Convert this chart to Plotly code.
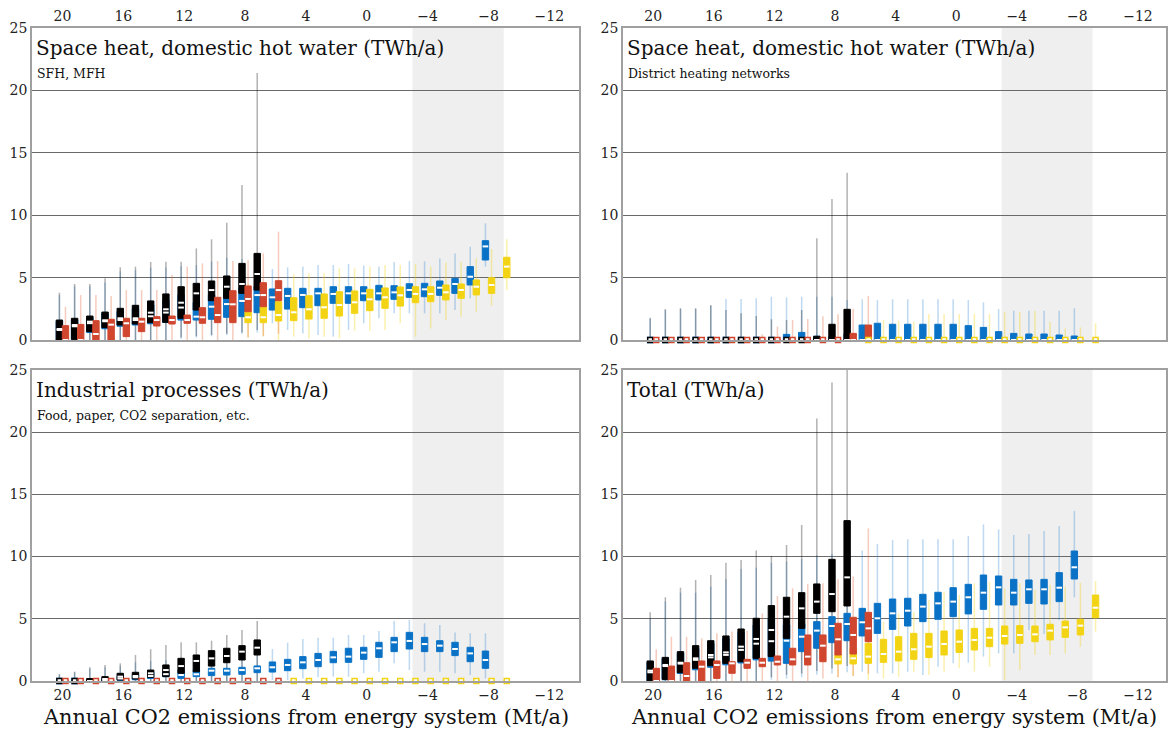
import plotly.graph_objects as go

# ---------------- data: rows are [CO2 group (Mt/a), whisker low, q1, median, q3, whisker high]
SFH_BLACK = [
    [20, 0, 0, 0.88, 1.6, 3.79], [19, 0, 0.05, 1.2, 1.74, 4.49], [18, 0, 0.67, 1.47, 1.92, 4.49],
    [17, 0, 0.99, 1.58, 2.24, 4.94], [16, 0, 1.2, 1.74, 2.54, 5.82], [15, 0, 1.28, 1.74, 2.78, 5.88],
    [14, 0, 1.39, 2.19, 3.13, 6.25], [13, 0, 1.42, 2.46, 3.69, 6.28], [12, 0.2, 1.74, 2.99, 4.27, 6.28],
    [11, 0.3, 2.4, 3.74, 4.54, 7.34], [10, 0.4, 3.15, 4.0, 4.73, 8.07], [9, 0.5, 3.34, 4.27, 5.13, 9.4],
    [8, 0.6, 3.74, 4.49, 6.14, 12.42], [7, 0.8, 4.0, 5.29, 6.94, 21.4],
]
SFH_BLUE = [
    [20, 0, 0, 0.8, 1.5, 3.6], [19, 0, 0.05, 1.1, 1.6, 4.3], [18, 0, 0.6, 1.35, 1.8, 4.3],
    [17, 0, 0.9, 1.5, 2.1, 4.6], [16, 0, 1.1, 1.6, 2.3, 5.5], [15, 0, 1.2, 1.6, 2.5, 5.6],
    [14, 0, 1.3, 1.9, 2.8, 5.8], [13, 0, 1.4, 2.2, 3.2, 5.8], [12, 0.1, 1.6, 2.6, 3.6, 5.9],
    [11, 0.2, 1.6, 1.87, 3.0, 6.0], [10, 0.3, 1.66, 2.67, 3.6, 6.3], [9, 0.4, 1.82, 2.88, 3.8, 6.6],
    [8, 0.5, 1.87, 3.13, 4.2, 6.5], [7, 0.6, 2.19, 3.6, 4.3, 6.3], [6, 1.34, 2.4, 3.42, 4.09, 5.69],
    [5, 0.8, 2.48, 3.53, 4.14, 5.82], [4, 0.53, 2.59, 3.61, 4.14, 5.88], [3, 0.4, 2.75, 3.74, 4.14, 6.01],
    [2, 0.27, 2.94, 3.69, 4.27, 6.01], [1, 0.8, 2.94, 3.74, 4.27, 6.09], [0, 1.34, 3.15, 3.74, 4.27, 5.96],
    [-1, 1.74, 3.21, 3.74, 4.38, 5.88], [-2, 2.14, 3.26, 3.82, 4.35, 6.25], [-3, 2.14, 3.42, 4.01, 4.51, 6.33],
    [-4, 2.14, 3.47, 4.06, 4.54, 6.3], [-5, 2.14, 3.58, 4.19, 4.73, 6.54], [-6, 2.4, 3.74, 4.49, 4.94, 6.94],
    [-7, 3.34, 4.41, 5.07, 5.88, 7.48], [-8, 5.88, 6.41, 7.5, 7.96, 9.35],
]
SFH_RED = [
    [20, 0, 0, 0, 1.15, 2.67], [19, 0, 0, 0, 1.25, 3.6], [18, 0, 0, 0.48, 1.55, 3.6],
    [17, 0, 0, 1.23, 1.66, 3.53], [16, 0, 0.27, 1.34, 1.74, 4.0], [15, 0, 0.67, 1.47, 1.74, 4.0],
    [14, 0, 1.12, 1.6, 1.87, 4.0], [13, 0, 1.28, 1.6, 1.92, 5.21], [12, 0, 1.34, 1.6, 2.0, 5.88],
    [11, 0, 1.34, 1.82, 2.59, 6.14], [10, 0, 1.39, 2.0, 3.42, 6.33], [9, 0, 1.39, 2.86, 3.95, 6.33],
    [8, 0.2, 2.27, 3.29, 4.33, 6.4], [7, 0.3, 2.67, 3.6, 4.59, 6.94], [6, 0.5, 3.15, 4.0, 4.75, 8.68],
]
SFH_YELLOW = [
    [8, 0.2, 1.39, 1.82, 2.27, 4.5], [7, 0.3, 1.39, 1.82, 2.67, 4.6], [6, 0, 1.52, 2.0, 3.07, 4.8],
    [5, 0.27, 1.55, 2.22, 3.39, 5.29], [4, 0.13, 1.68, 2.46, 3.55, 5.34], [3, 0.27, 1.74, 2.62, 3.69, 5.34],
    [2, 0.13, 1.92, 2.8, 3.87, 5.74], [1, 0.75, 2.14, 3.02, 3.93, 5.74], [0, 0.75, 2.35, 3.26, 4.06, 5.88],
    [-1, 0.8, 2.54, 3.42, 4.17, 6.01], [-2, 1.34, 2.72, 3.58, 4.25, 6.01], [-3, 0.27, 2.99, 3.69, 4.27, 6.09],
    [-4, 0.93, 3.07, 3.69, 4.27, 5.88], [-5, 1.6, 3.21, 3.82, 4.41, 6.22], [-6, 1.87, 3.34, 4.01, 4.49, 6.28],
    [-7, 2.27, 3.61, 4.27, 4.81, 6.54], [-8, 2.75, 3.74, 4.41, 4.99, 7.29], [-9, 4.0, 4.99, 5.88, 6.63, 8.07],
]

DH_BLACK = [
    [20, 0, 0, 0, 0, 1.79], [19, 0, 0, 0, 0, 2.48], [18, 0, 0, 0, 0, 2.54], [17, 0, 0, 0, 0, 2.54],
    [16, 0, 0, 0, 0, 2.8], [15, 0, 0, 0, 0, 2.4], [14, 0, 0, 0, 0, 2.14], [13, 0, 0, 0, 0, 1.92],
    [12, 0, 0, 0, 0, 1.66], [11, 0, 0, 0, 0, 1.6], [10, 0, 0, 0, 0, 2.4], [9, 0, 0, 0, 0.3, 8.15],
    [8, 0, 0, 0, 1.26, 11.3], [7, 0, 0, 0, 2.46, 13.4],
]
DH_BLUE = [
    [20, 0, 0, 0, 0, 1.7], [19, 0, 0, 0, 0, 2.4], [18, 0, 0, 0, 0, 2.5], [17, 0, 0, 0, 0, 2.5],
    [16, 0, 0, 0, 0, 2.75], [15, 0, 0, 0, 0, 3.29], [14, 0, 0, 0, 0, 3.29], [13, 0, 0, 0, 0, 3.34],
    [12, 0, 0, 0, 0, 3.47], [11, 0, 0, 0, 0.45, 3.42], [10, 0, 0, 0, 0.61, 3.47], [9, 0, 0, 0, 0.3, 3.47],
    [8, 0, 0, 0, 0.3, 3.47], [7, 0, 0, 0, 0.5, 3.2], [6, 0, 0, 0, 1.2, 3.26], [5, 0, 0, 0, 1.34, 3.2],
    [4, 0, 0, 0, 1.26, 3.26], [3, 0, 0, 0, 1.26, 3.26], [2, 0, 0, 0, 1.26, 3.26], [1, 0, 0, 0, 1.26, 3.26],
    [0, 0, 0, 0, 1.26, 3.26], [-1, 0, 0, 0, 1.15, 3.2], [-2, 0, 0, 0, 1.01, 3.02], [-3, 0, 0, 0, 0.67, 2.48],
    [-4, 0, 0, 0, 0.53, 2.35], [-5, 0, 0, 0, 0.48, 2.35], [-6, 0, 0, 0, 0.48, 2.35], [-7, 0, 0, 0, 0.4, 2.35],
    [-8, 0, 0, 0, 0.32, 2.54],
]
DH_RED = [
    [20, 0, 0, 0, 0, 0], [19, 0, 0, 0, 0, 0], [18, 0, 0, 0, 0, 0], [17, 0, 0, 0, 0, 0],
    [16, 0, 0, 0, 0, 0], [15, 0, 0, 0, 0, 0], [14, 0, 0, 0, 0, 0.1], [13, 0, 0, 0, 0, 0.45],
    [12, 0, 0, 0, 0, 1.07], [11, 0, 0, 0, 0, 1.6], [10, 0, 0, 0, 0, 1.68], [9, 0, 0, 0, 0, 1.9],
    [8, 0, 0, 0, 0, 2.06], [7, 0, 0, 0, 0.53, 2.48], [6, 0, 0, 0, 1.2, 3.53],
]
DH_YELLOW = [
    [6, 0, 0, 0, 0, 0.3], [5, 0, 0, 0, 0, 1.6], [4, 0, 0, 0, 0, 1.55], [3, 0, 0, 0, 0, 1.47],
    [2, 0, 0, 0, 0, 2.08], [1, 0, 0, 0, 0, 2.08], [0, 0, 0, 0, 0, 2.08], [-1, 0, 0, 0, 0, 2.08],
    [-2, 0, 0, 0, 0, 2.08], [-3, 0, 0, 0, 0, 2.27], [-4, 0, 0, 0, 0, 2.27], [-5, 0, 0, 0, 0, 2.32],
    [-6, 0, 0, 0, 0, 1.47], [-7, 0, 0, 0, 0, 0.93], [-8, 0, 0, 0, 0, 1.01], [-9, 0, 0, 0, 0, 1.34],
]

IND_BLACK = [
    [20, 0, 0, 0, 0, 0.56], [19, 0, 0, 0, 0, 0.75], [18, 0, 0, 0, 0.2, 1.1], [17, 0, 0, 0.16, 0.35, 1.29],
    [16, 0, 0.08, 0.35, 0.62, 1.42], [15, 0, 0.16, 0.4, 0.7, 2.09], [14, 0, 0.3, 0.62, 0.88, 2.55],
    [13, 0, 0.35, 0.88, 1.29, 2.89], [12, 0, 0.62, 1.2, 1.82, 3.11], [11, 0, 0.75, 1.61, 2.09, 3.11],
    [10, 0, 1.2, 1.82, 2.44, 3.24], [9, 0, 1.47, 2.01, 2.63, 3.7], [8, 0, 1.69, 2.36, 2.84, 4.1],
    [7, 0, 2.09, 2.68, 3.3, 4.82],
]
IND_BLUE = [
    [20, 0, 0, 0, 0, 0.5], [19, 0, 0, 0, 0, 0.7], [18, 0, 0, 0, 0.1, 1.0], [17, 0, 0, 0.05, 0.2, 1.1],
    [16, 0, 0.05, 0.2, 0.4, 1.2], [15, 0, 0.1, 0.3, 0.5, 1.5], [14, 0, 0.2, 0.4, 0.7, 1.6],
    [13, 0, 0.35, 0.55, 0.75, 1.69], [12, 0, 0.21, 0.48, 0.88, 1.9], [11, 0, 0.35, 0.54, 0.88, 2.0],
    [10, 0, 0.43, 0.83, 1.02, 2.2], [9, 0, 0.48, 0.83, 1.02, 2.3], [8, 0, 0.54, 0.88, 1.1, 2.4],
    [7, 0, 0.67, 1.02, 1.21, 2.5], [6, 0.08, 0.72, 1.1, 1.53, 2.57], [5, 0.08, 0.83, 1.29, 1.74, 3.08],
    [4, 0.21, 0.99, 1.5, 1.96, 3.38], [3, 0.3, 1.15, 1.69, 2.22, 3.48], [2, 0.35, 1.47, 1.9, 2.38, 3.48],
    [1, 0.35, 1.5, 1.96, 2.63, 3.7], [0, 0.62, 1.74, 2.28, 2.71, 3.7], [-1, 0.75, 1.9, 2.63, 3.11, 4.02],
    [-2, 1.42, 2.36, 3.11, 3.51, 4.82], [-3, 0.88, 2.57, 3.22, 3.91, 4.9], [-4, 0.75, 2.36, 2.97, 3.51, 4.64],
    [-5, 0.75, 2.36, 2.84, 3.24, 4.5], [-6, 0.62, 2.04, 2.57, 3.11, 3.89], [-7, 0.48, 1.55, 2.22, 2.71, 3.83],
    [-8, 0.21, 1.02, 1.69, 2.41, 3.83],
]
IND_RED = [
    [20, 0, 0, 0, 0, 0], [19, 0, 0, 0, 0, 0], [18, 0, 0, 0, 0, 0], [17, 0, 0, 0, 0, 0], [16, 0, 0, 0, 0, 0],
    [15, 0, 0, 0, 0, 0], [14, 0, 0, 0, 0, 0], [13, 0, 0, 0, 0, 0], [12, 0, 0, 0, 0, 0], [11, 0, 0, 0, 0, 0],
    [10, 0, 0, 0, 0, 0], [9, 0, 0, 0, 0, 0], [8, 0, 0, 0, 0, 0], [7, 0, 0, 0, 0, 0], [6, 0, 0, 0, 0, 0.3],
]
IND_YELLOW = [
    [5, 0, 0, 0, 0, 0], [4, 0, 0, 0, 0, 0], [3, 0, 0, 0, 0, 0], [2, 0, 0, 0, 0, 0], [1, 0, 0, 0, 0, 0],
    [0, 0, 0, 0, 0, 0], [-1, 0, 0, 0, 0, 0], [-2, 0, 0, 0, 0, 0], [-3, 0, 0, 0, 0, 0], [-4, 0, 0, 0, 0, 0],
    [-5, 0, 0, 0, 0, 0], [-6, 0, 0, 0, 0, 0], [-7, 0, 0, 0, 0, 0], [-8, 0, 0, 0, 0, 0], [-9, 0, 0, 0, 0, 0],
]

TOT_BLACK = [
    [20, 0, 0, 0.83, 1.61, 5.52], [19, 0, 0.13, 1.29, 1.9, 6.73], [18, 0, 0.67, 1.47, 2.36, 7.5],
    [17, 0, 1.02, 1.82, 2.84, 8.12], [16, 0, 1.23, 2.09, 3.24, 8.52], [15, 0, 1.42, 2.3, 3.62, 9.51],
    [14, 0, 1.55, 2.76, 4.18, 9.73], [13, 0, 1.82, 3.38, 5.04, 10.48], [12, 0.3, 1.96, 4.1, 6.06, 10.05],
    [11, 0.5, 3.43, 5.17, 6.73, 10.93], [10, 0.6, 4.23, 5.84, 7.1, 12.54], [9, 0.8, 5.44, 6.38, 7.8, 21.1],
    [8, 1.0, 5.57, 6.99, 9.78, 24.0], [7, 1.2, 6.03, 8.33, 12.89, 25.8],
]
TOT_BLUE = [
    [20, 0, 0, 0.7, 1.5, 5.0], [19, 0, 0.1, 1.2, 1.8, 6.4], [18, 0, 0.6, 1.4, 2.2, 7.1],
    [17, 0, 0.9, 1.7, 2.6, 7.1], [16, 0, 1.1, 1.9, 3.0, 7.6], [15, 0, 1.3, 2.1, 3.4, 8.2],
    [14, 0, 1.45, 2.5, 3.9, 9.0], [13, 0, 1.7, 3.0, 4.5, 9.1], [12, 0.1, 1.6, 3.2, 5.0, 9.5],
    [11, 0.2, 1.42, 3.24, 4.5, 9.6], [10, 0.3, 2.36, 3.56, 4.6, 9.8], [9, 0.5, 2.63, 4.05, 4.77, 10.1],
    [8, 0.6, 3.08, 4.42, 5.17, 10.2], [7, 0.7, 3.24, 4.58, 5.44, 10.0], [6, 0.75, 3.62, 4.72, 5.84, 10.48],
    [5, 0.62, 3.83, 5.04, 6.24, 11.01], [4, 0.62, 4.15, 5.44, 6.59, 11.33], [3, 0.75, 4.42, 5.65, 6.65, 11.39],
    [2, 0.48, 4.77, 5.98, 6.97, 11.39], [1, 1.15, 4.96, 6.24, 7.13, 11.39], [0, 1.42, 5.17, 6.38, 7.5, 11.39],
    [-1, 1.47, 5.39, 6.73, 7.77, 11.66], [-2, 1.96, 5.76, 7.1, 8.52, 12.59], [-3, 2.22, 6.11, 7.53, 8.44, 12.19],
    [-4, 2.22, 6.11, 7.1, 8.17, 11.74], [-5, 4.1, 6.24, 7.37, 8.12, 11.82], [-6, 3.78, 6.19, 7.37, 8.17, 12.06],
    [-7, 4.9, 6.38, 7.5, 8.71, 12.46], [-8, 6.73, 8.2, 9.14, 10.45, 13.67],
]
TOT_RED = [
    [20, 0, 0, 0, 1.02, 2.55], [19, 0, 0, 0, 1.2, 3.56], [18, 0, 0, 0.4, 1.47, 3.56],
    [17, 0, 0, 1.15, 1.61, 3.43], [16, 0, 0.21, 1.29, 1.61, 3.83], [15, 0, 0.62, 1.42, 1.55, 3.97],
    [14, 0, 1.02, 1.47, 1.74, 4.02], [13, 0, 1.15, 1.47, 1.82, 5.44], [12, 0, 1.29, 1.55, 2.01, 6.83],
    [11, 0, 1.29, 1.74, 2.63, 7.45], [10, 0, 1.29, 1.96, 3.7, 7.8], [9, 0.2, 1.55, 2.84, 3.7, 7.85],
    [8, 0.3, 2.09, 3.35, 4.64, 8.17], [7, 0.4, 2.17, 3.7, 5.12, 8.39], [6, 0.6, 3.16, 4.23, 5.52, 12.27],
]
TOT_YELLOW = [
    [8, 0.3, 1.37, 1.74, 2.09, 4.5], [7, 0.4, 1.37, 1.82, 2.63, 5.0], [6, 0.1, 1.42, 1.96, 3.03, 5.3],
    [5, 0.21, 1.5, 2.17, 3.35, 4.77], [4, 0.35, 1.61, 2.36, 3.56, 5.44], [3, 0.75, 1.74, 2.55, 3.83, 5.57],
    [2, 0.48, 1.88, 2.76, 3.83, 6.51], [1, 0.75, 2.09, 2.97, 4.02, 7.18], [0, 1.02, 2.3, 3.16, 4.1, 6.91],
    [-1, 0.75, 2.49, 3.3, 4.23, 7.85], [-2, 1.15, 2.76, 3.48, 4.23, 7.98], [-3, 0.08, 2.97, 3.62, 4.42, 7.45],
    [-4, 0.88, 3.03, 3.7, 4.45, 7.85], [-5, 2.09, 3.16, 3.75, 4.42, 7.32], [-6, 2.09, 3.3, 4.05, 4.56, 7.72],
    [-7, 2.22, 3.51, 4.31, 4.82, 7.58], [-8, 2.76, 3.7, 4.45, 4.96, 7.9], [-9, 3.97, 5.09, 5.89, 6.91, 8.04],
]

PANELS = [
    {"title": "Space heat, domestic hot water (TWh/a)", "sub": "SFH, MFH",
     "data": {"blue": SFH_BLUE, "yellow": SFH_YELLOW, "black": SFH_BLACK, "red": SFH_RED}},
    {"title": "Space heat, domestic hot water (TWh/a)", "sub": "District heating networks",
     "data": {"blue": DH_BLUE, "yellow": DH_YELLOW, "black": DH_BLACK, "red": DH_RED}},
    {"title": "Industrial processes (TWh/a)", "sub": "Food, paper, CO2 separation, etc.",
     "data": {"blue": IND_BLUE, "yellow": IND_YELLOW, "black": IND_BLACK, "red": IND_RED}},
    {"title": "Total (TWh/a)", "sub": "",
     "data": {"blue": TOT_BLUE, "yellow": TOT_YELLOW, "black": TOT_BLACK, "red": TOT_RED}},
]
X_TICKS = [20, 16, 12, 8, 4, 0, -4, -8, -12]
Y_TICKS = [0, 5, 10, 15, 20, 25]
SHADE = (-3, -9)
X_TITLE = "Annual CO2 emissions from energy system (Mt/a)"

# ---------------- style
FONT = "DejaVu Serif"
BOX = {"black": "#000000", "blue": "#0a72c6", "red": "#d0462e", "yellow": "#f3d415"}
WHISK = {"black": "rgba(0,0,0,0.30)", "blue": "rgba(20,120,205,0.28)",
         "red": "rgba(225,95,50,0.32)", "yellow": "rgba(243,212,21,0.35)"}
OFF = {"black": 0.2, "blue": 0.2, "red": -0.2, "yellow": -0.2}
ORDER = ["blue", "yellow", "black", "red"]
BOX_W = 0.42
WHISK_W = 0.1

X_DOM = [[0.0, 0.4824], [0.5211, 1.0]]
X_RANGE = [[22, -13.95], [22, -13.85]]
Y_DOM = [[0.5222, 1.0], [0.0, 0.4763]]

fig = go.Figure()

for i, p in enumerate(PANELS):
    n = "" if i == 0 else str(i + 1)
    xa, ya = "x" + n, "y" + n
    d = p["data"]
    # whiskers
    for s in ORDER:
        rows = d[s]
        fig.add_trace(go.Bar(
            x=[r[0] + OFF[s] for r in rows], base=[r[1] for r in rows],
            y=[r[5] - r[1] for r in rows], width=WHISK_W,
            marker=dict(color=WHISK[s], line=dict(width=0)),
            xaxis=xa, yaxis=ya, showlegend=False, hoverinfo="skip"))
    # boxes
    for s in ORDER:
        rows = d[s]
        fig.add_trace(go.Bar(
            x=[r[0] + OFF[s] for r in rows], base=[r[2] for r in rows],
            y=[r[4] - r[2] for r in rows], width=BOX_W,
            marker=dict(color=BOX[s], line=dict(color=BOX[s], width=1)),
            xaxis=xa, yaxis=ya, showlegend=False, hoverinfo="skip"))
    # medians
    for s in ORDER:
        rows = d[s]
        full = [r for r in rows if r[4] > r[2]]
        flat = [r for r in rows if r[4] <= r[2]]
        if full:
            fig.add_trace(go.Scatter(
                x=[r[0] + OFF[s] for r in full], y=[r[3] for r in full], mode="markers",
                marker=dict(symbol="line-ew", size=4, line=dict(color="white", width=2)),
                cliponaxis=False, xaxis=xa, yaxis=ya, showlegend=False, hoverinfo="skip"))
        if flat:
            fig.add_trace(go.Scatter(
                x=[r[0] + OFF[s] for r in flat], y=[r[3] for r in flat], mode="markers",
                marker=dict(symbol="square", size=5, color="white", line=dict(color=BOX[s], width=1.5)),
                cliponaxis=False, xaxis=xa, yaxis=ya, showlegend=False, hoverinfo="skip"))

layout = dict(
    width=1168, height=729, margin=dict(l=32, r=0, t=28, b=48),
    paper_bgcolor="white", plot_bgcolor="white", barmode="overlay",
    font=dict(family=FONT, color="#222", size=14), showlegend=False,
    shapes=[], annotations=[],
)
for i, p in enumerate(PANELS):
    row, col = divmod(i, 2)
    n = "" if i == 0 else str(i + 1)
    layout["xaxis" + n] = dict(
        domain=X_DOM[col], anchor="y" + n, range=X_RANGE[col], tickvals=X_TICKS,
        side="top" if row == 0 else "bottom", showgrid=False, zeroline=False,
        showline=True, mirror=True, linecolor="#a0a0a0", linewidth=1.5, ticks="",
        tickfont=dict(size=14, family=FONT, color="#222"))
    layout["yaxis" + n] = dict(
        domain=Y_DOM[row], anchor="x" + n, range=[0, 25], tickvals=Y_TICKS,
        showgrid=True, gridcolor="#6a6a6a", gridwidth=1, zeroline=False,
        showline=True, mirror=True, linecolor="#a0a0a0", linewidth=1.5, ticks="",
        tickfont=dict(size=14, family=FONT, color="#222"))
    layout["shapes"].append(dict(
        type="rect", xref="x" + n, yref="y" + n, x0=SHADE[0], x1=SHADE[1], y0=0, y1=25,
        fillcolor="#efefef", line=dict(width=0), layer="below"))
    layout["annotations"].append(dict(
        xref=f"x{n} domain", yref=f"y{n} domain", x=0.004, y=0.98, xanchor="left", yanchor="top",
        text=p["title"], showarrow=False, font=dict(size=20, family=FONT, color="#111")))
    if p["sub"]:
        layout["annotations"].append(dict(
            xref=f"x{n} domain", yref=f"y{n} domain", x=0.006, y=0.884, xanchor="left", yanchor="top",
            text=p["sub"], showarrow=False, font=dict(size=12.5, family=FONT, color="#111")))
    if row == 1:
        layout["annotations"].append(dict(
            xref="paper", yref="paper", x=sum(X_DOM[col]) / 2, y=-0.0555, xanchor="center",
            yanchor="middle", text=X_TITLE, showarrow=False,
            font=dict(size=20.8, family=FONT, color="#111")))

fig.update_layout(**layout)
fig.write_html("out.html")
